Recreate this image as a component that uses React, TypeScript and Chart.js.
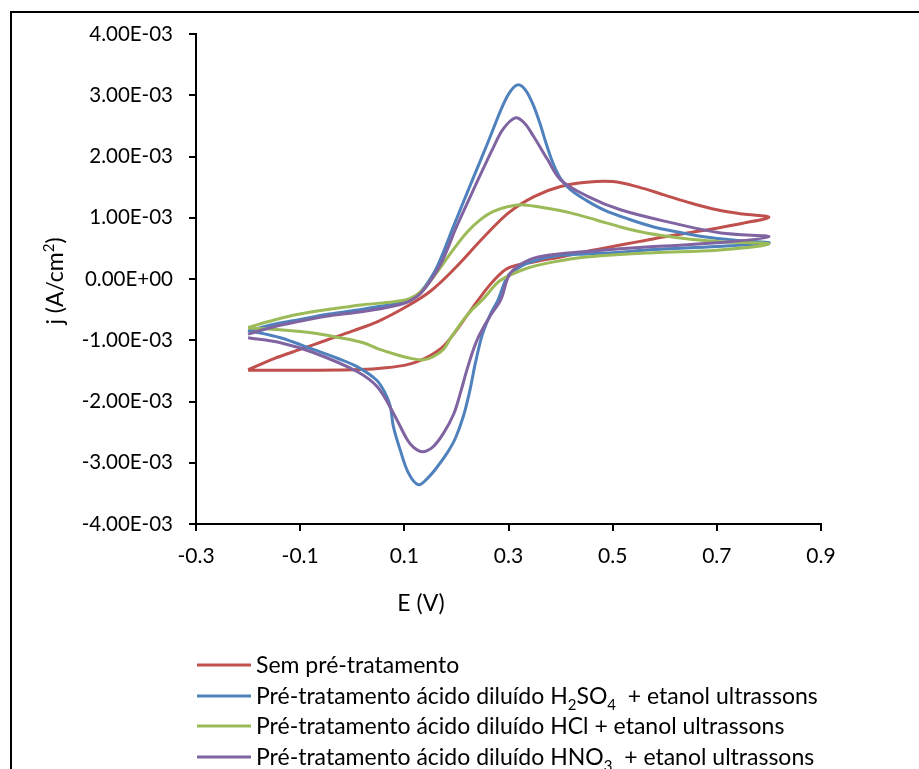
import React, { useEffect, useRef } from 'react';
import { Chart, registerables } from 'chart.js';

Chart.register(...registerables);

const FONT = 'Lato, "Open Sans", sans-serif';

// Axis ticks and their printed labels
const xTicks = [-0.3, -0.1, 0.1, 0.3, 0.5, 0.7, 0.9];
const xTickLabels = ['-0.3', '-0.1', '0.1', '0.3', '0.5', '0.7', '0.9'];
const yTicks = [-4e-3, -3e-3, -2e-3, -1e-3, 0, 1e-3, 2e-3, 3e-3, 4e-3];
const yTickLabels = ['-4.00E-03', '-3.00E-03', '-2.00E-03', '-1.00E-03', '0.00E+00', '1.00E-03', '2.00E-03', '3.00E-03', '4.00E-03'];

// Series names ("_n" marks a subscript digit)
const seriesNames = [
  'Sem pré-tratamento',
  'Pré-tratamento ácido diluído H_2SO_4  + etanol ultrassons',
  'Pré-tratamento ácido diluído HCl + etanol ultrassons',
  'Pré-tratamento ácido diluído HNO_3  + etanol ultrassons',
];
const seriesColors = ['#C0504D', '#4F81BD', '#9BBB59', '#8064A2'];

// Cyclic voltammograms: potential E (V) and current density j (mA/cm², scaled to A/cm² below)
// Sem pré-tratamento
const semE = [-0.2, -0.15, -0.1, -0.05, 0.0, 0.05, 0.1, 0.15, 0.2, 0.25, 0.3, 0.35, 0.4, 0.45, 0.5, 0.55, 0.6, 0.65, 0.7, 0.75, 0.8,
  0.75, 0.7, 0.65, 0.6, 0.55, 0.5, 0.45, 0.4, 0.35, 0.3, 0.27, 0.242, 0.22, 0.2, 0.175, 0.15, 0.125, 0.1, 0.05, 0.0, -0.1, -0.2];
const semJ = [-1.48, -1.3, -1.15, -1.0, -0.85, -0.69, -0.47, -0.2, 0.2, 0.66, 1.08, 1.35, 1.51, 1.58, 1.59, 1.5, 1.37, 1.24, 1.13, 1.06, 1.01,
  0.91, 0.83, 0.76, 0.69, 0.61, 0.53, 0.45, 0.36, 0.28, 0.18, -0.04, -0.34, -0.6, -0.84, -1.1, -1.25, -1.35, -1.41, -1.46, -1.48, -1.49, -1.49];

// H2SO4
const h2so4E = [-0.2, -0.15, -0.1, -0.05, 0.0, 0.05, 0.1, 0.12, 0.14, 0.163, 0.194, 0.225, 0.26, 0.29, 0.305, 0.319, 0.333, 0.347, 0.36, 0.372, 0.385, 0.4, 0.42, 0.45, 0.483, 0.53, 0.579, 0.63, 0.675, 0.74, 0.8,
  0.7, 0.579, 0.5, 0.45, 0.387, 0.337, 0.315, 0.298, 0.28, 0.265, 0.25, 0.237, 0.225, 0.213, 0.198, 0.183, 0.163, 0.145, 0.127, 0.108, 0.092, 0.079, 0.073, 0.063, 0.046, 0.009, -0.03, -0.075, -0.138, -0.2];
const h2so4J = [-0.85, -0.74, -0.66, -0.58, -0.52, -0.45, -0.38, -0.3, -0.12, 0.2, 0.85, 1.5, 2.22, 2.85, 3.08, 3.17, 3.08, 2.85, 2.55, 2.22, 1.9, 1.64, 1.45, 1.28, 1.13, 0.98, 0.85, 0.76, 0.69, 0.63, 0.59,
  0.53, 0.48, 0.43, 0.41, 0.37, 0.26, 0.16, 0.04, -0.34, -0.58, -0.9, -1.35, -1.85, -2.25, -2.6, -2.83, -3.07, -3.25, -3.36, -3.17, -2.79, -2.41, -2.08, -1.86, -1.645, -1.43, -1.29, -1.15, -0.96, -0.84];

// HCl
const hclE = [-0.2, -0.15, -0.106, -0.04, 0.021, 0.08, 0.11, 0.135, 0.16, 0.194, 0.22, 0.246, 0.27, 0.298, 0.329, 0.37, 0.419, 0.47, 0.515, 0.56, 0.612, 0.66, 0.708, 0.8,
  0.7, 0.579, 0.45, 0.387, 0.337, 0.3, 0.279, 0.25, 0.23, 0.213, 0.19, 0.175, 0.155, 0.137, 0.115, 0.087, 0.05, 0.021, -0.03, -0.075, -0.138, -0.2];
const hclJ = [-0.79, -0.67, -0.58, -0.49, -0.42, -0.37, -0.32, -0.18, 0.08, 0.48, 0.76, 0.97, 1.1, 1.18, 1.21, 1.16, 1.08, 0.96, 0.85, 0.76, 0.69, 0.64, 0.61, 0.57,
  0.47, 0.43, 0.36, 0.28, 0.18, 0.05, -0.06, -0.34, -0.5, -0.67, -0.95, -1.15, -1.27, -1.32, -1.3, -1.24, -1.14, -1.04, -0.95, -0.88, -0.83, -0.8];

// HNO3
const hno3E = [-0.2, -0.15, -0.106, -0.05, 0.021, 0.08, 0.11, 0.135, 0.17, 0.2, 0.235, 0.271, 0.29, 0.313, 0.33, 0.348, 0.375, 0.4, 0.452, 0.515, 0.612, 0.708, 0.8,
  0.7, 0.579, 0.45, 0.387, 0.342, 0.304, 0.285, 0.265, 0.24, 0.222, 0.208, 0.195, 0.175, 0.155, 0.135, 0.118, 0.106, 0.079, 0.048, 0.009, -0.075, -0.138, -0.2];
const hno3J = [-0.9, -0.78, -0.7, -0.61, -0.53, -0.44, -0.36, -0.2, 0.25, 0.85, 1.5, 2.15, 2.45, 2.63, 2.55, 2.33, 1.95, 1.62, 1.35, 1.13, 0.92, 0.75, 0.69,
  0.59, 0.53, 0.45, 0.4, 0.32, 0.1, -0.34, -0.6, -0.99, -1.43, -1.85, -2.2, -2.52, -2.74, -2.82, -2.75, -2.63, -2.19, -1.76, -1.51, -1.2, -1.04, -0.96];

const MILLI = 1e-3;
const seriesE = [semE, h2so4E, hclE, hno3E];
const seriesJ = [semJ, h2so4J, hclJ, hno3J];

// Splits "_d" (subscript) and "^d" (superscript) markers out of a label
function richParts(text: string) {
  return text.split(/([_^]\d)/).filter((p) => p.length > 0);
}

function drawRich(ctx: CanvasRenderingContext2D, text: string, x: number, y: number, size: number) {
  let cx = x;
  for (const p of richParts(text)) {
    if (p[0] === '_' || p[0] === '^') {
      ctx.font = `${Math.round(size * 0.65)}px ${FONT}`;
      const dy = p[0] === '_' ? size * 0.28 : -size * 0.38;
      ctx.fillText(p.slice(1), cx, y + dy);
      cx += ctx.measureText(p.slice(1)).width;
    } else {
      ctx.font = `${size}px ${FONT}`;
      ctx.fillText(p, cx, y);
      cx += ctx.measureText(p).width;
    }
  }
  return cx - x;
}

function richWidth(ctx: CanvasRenderingContext2D, text: string, size: number) {
  let w = 0;
  for (const p of richParts(text)) {
    if (p[0] === '_' || p[0] === '^') {
      ctx.font = `${Math.round(size * 0.65)}px ${FONT}`;
      w += ctx.measureText(p.slice(1)).width;
    } else {
      ctx.font = `${size}px ${FONT}`;
      w += ctx.measureText(p).width;
    }
  }
  return w;
}

const decorations = {
  id: 'decorations',
  afterDraw(chart: any) {
    const ctx: CanvasRenderingContext2D = chart.ctx;
    ctx.save();
    // outer frame
    ctx.strokeStyle = '#000';
    ctx.lineWidth = 2;
    ctx.beginPath();
    ctx.moveTo(11, 769);
    ctx.lineTo(11, 12);
    ctx.lineTo(919, 12);
    ctx.stroke();

    ctx.fillStyle = '#000';
    ctx.textBaseline = 'alphabetic';
    ctx.textAlign = 'left';

    // x axis title
    const xt = 'E (V)';
    ctx.font = `23px ${FONT}`;
    const xw = ctx.measureText(xt).width;
    ctx.fillText(xt, 421 - xw / 2, 611);

    // y axis title
    const yt = 'j (A/cm^2)';
    const yw = richWidth(ctx, yt, 23);
    ctx.save();
    ctx.translate(63, 281);
    ctx.rotate(-Math.PI / 2);
    drawRich(ctx, yt, -yw / 2, 0, 23);
    ctx.restore();

    // legend
    const rowY = [665, 696, 726, 757];
    seriesNames.forEach((name, i) => {
      ctx.strokeStyle = seriesColors[i];
      ctx.lineWidth = 3;
      ctx.beginPath();
      ctx.moveTo(197, rowY[i]);
      ctx.lineTo(251, rowY[i]);
      ctx.stroke();
      ctx.fillStyle = '#000';
      drawRich(ctx, name, 256, rowY[i] + 8, 23);
    });
    ctx.restore();
  },
};

export default function App() {
  const ref = useRef<HTMLCanvasElement | null>(null);

  useEffect(() => {
    if (!ref.current) return;
    const datasets = seriesNames.map((name, i) => ({
      label: name,
      data: seriesE[i].map((e, k) => ({ x: e, y: seriesJ[i][k] * MILLI })),
      borderColor: seriesColors[i],
      backgroundColor: seriesColors[i],
      borderWidth: 3,
      pointRadius: 0,
      showLine: true,
      tension: 0.35,
      fill: false,
      order: 4 - i,
    }));

    const chart = new Chart(ref.current, {
      type: 'scatter',
      data: { datasets },
      options: {
        animation: false,
        responsive: false,
        maintainAspectRatio: false,
        layout: { padding: { left: 0, top: 34, right: 98, bottom: 0 } },
        plugins: { legend: { display: false }, tooltip: { enabled: false }, title: { display: false } },
        scales: {
          x: {
            type: 'linear',
            min: -0.3,
            max: 0.9,
            afterBuildTicks: (s: any) => { s.ticks = xTicks.map((v) => ({ value: v })); },
            afterFit: (s: any) => { s.height = 245; },
            ticks: {
              callback: (_v: any, i: number) => xTickLabels[i],
              color: '#000',
              font: { family: FONT, size: 21 },
              padding: 13,
              maxRotation: 0,
              autoSkip: false,
            },
            grid: { drawOnChartArea: false, drawTicks: true, tickLength: 7, color: '#000', lineWidth: 2 },
            border: { color: '#000', width: 2 },
          },
          y: {
            type: 'linear',
            min: -4e-3,
            max: 4e-3,
            afterBuildTicks: (s: any) => { s.ticks = yTicks.map((v) => ({ value: v })); },
            afterFit: (s: any) => { s.width = 196; },
            ticks: {
              callback: (_v: any, i: number) => yTickLabels[i],
              color: '#000',
              font: { family: FONT, size: 20.5 },
              padding: 16,
              autoSkip: false,
            },
            grid: { drawOnChartArea: false, drawTicks: true, tickLength: 7, color: '#000', lineWidth: 2 },
            border: { color: '#000', width: 2 },
          },
        },
      },
      plugins: [decorations],
    });
    return () => chart.destroy();
  }, []);

  return (
    <div style={{ position: 'fixed', left: 0, top: 0, width: 919, height: 769, background: '#fff' }}>
      <canvas ref={ref} width={919} height={769} style={{ width: 919, height: 769, display: 'block' }} />
    </div>
  );
}
